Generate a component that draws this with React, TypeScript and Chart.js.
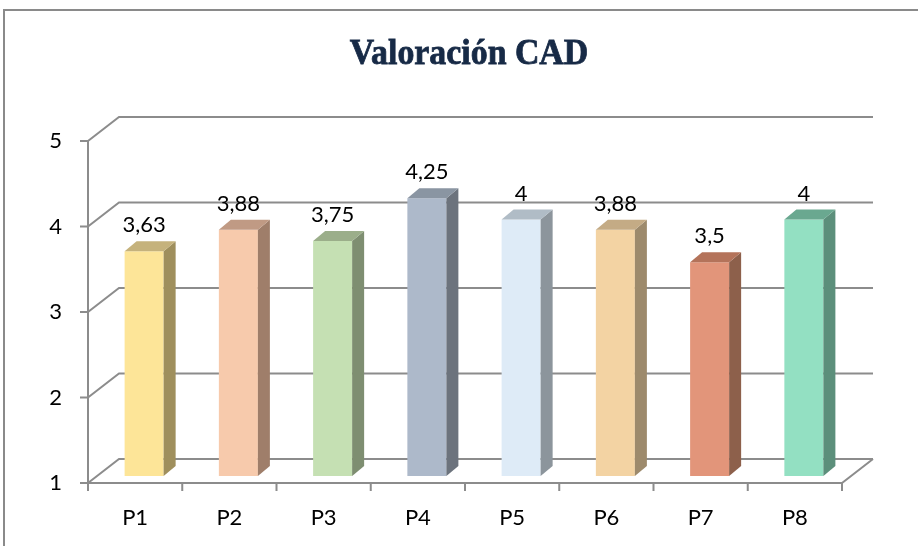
import { useEffect, useRef } from 'react';
import { Chart, registerables } from 'chart.js';

Chart.register(...registerables);

const title = 'Valoración CAD';
const categories = ['P1', 'P2', 'P3', 'P4', 'P5', 'P6', 'P7', 'P8'];
const values = [3.63, 3.88, 3.75, 4.25, 4, 3.88, 3.5, 4];
const valueLabels = ['3,63', '3,88', '3,75', '4,25', '4', '3,88', '3,5', '4'];
const yTicks = [1, 2, 3, 4, 5];
const frontColors = ['#fde598', '#f7caac', '#c5e0b3', '#adb9ca', '#deebf7', '#f3d3a3', '#e2957a', '#93e0c2'];
const sideColors = ['#9f8f5d', '#9f7e6a', '#7e8e71', '#6c737d', '#8c959c', '#9d8a6c', '#8d604b', '#5c8f7b'];
const topColors = ['#c5b27c', '#c09a84', '#9bae8a', '#8a95a2', '#b0bcc6', '#c4ab85', '#b4735a', '#6aa890'];

const WALL_DX = 31;
const WALL_DY = 24;
const BAR_SHIFT_X = 9;
const BAR_SHIFT_Y = 7;
const BAR_DX = 12;
const BAR_DY = 10;
const LINE = '#8c8c8c';
const FONT = 'Lato, "Open Sans", sans-serif';

const threeD = {
  id: 'threeD',
  beforeDraw(chart: any) {
    const { ctx, width, height } = chart;
    ctx.save();
    ctx.fillStyle = '#ffffff';
    ctx.fillRect(0, 0, width, height);
    ctx.strokeStyle = '#8a8a8a';
    ctx.lineWidth = 2;
    ctx.beginPath();
    ctx.moveTo(4, height);
    ctx.lineTo(4, 10);
    ctx.lineTo(width, 10);
    ctx.stroke();
    // title
    ctx.translate(469, 64);
    ctx.scale(0.94, 1);
    ctx.fillStyle = '#172a46';
    ctx.strokeStyle = '#172a46';
    ctx.lineWidth = 0.8;
    ctx.font = 'bold 36px "Liberation Serif", serif';
    ctx.textAlign = 'center';
    ctx.textBaseline = 'alphabetic';
    ctx.fillText(title, 0, 0);
    ctx.strokeText(title, 0, 0);
    ctx.restore();
  },
  beforeDatasetsDraw(chart: any) {
    const { ctx, chartArea, scales } = chart;
    const y = scales.y;
    const { left, right, top, bottom } = chartArea;
    ctx.save();
    ctx.strokeStyle = LINE;
    ctx.lineWidth = 2;
    ctx.beginPath();
    yTicks.forEach((t) => {
      const py = y.getPixelForValue(t);
      ctx.moveTo(left, py);
      ctx.lineTo(left + WALL_DX, py - WALL_DY);
      ctx.lineTo(right + WALL_DX, py - WALL_DY);
      ctx.moveTo(left - 8, py);
      ctx.lineTo(left, py);
    });
    ctx.moveTo(left, top);
    ctx.lineTo(left, bottom);
    ctx.lineTo(right, bottom);
    ctx.lineTo(right + WALL_DX, bottom - WALL_DY);
    const n = categories.length;
    for (let i = 0; i <= n; i++) {
      const xp = left + (i * (right - left)) / n;
      ctx.moveTo(xp, bottom);
      ctx.lineTo(xp, bottom + 8);
    }
    ctx.stroke();
    ctx.restore();
    ctx.save();
    ctx.translate(BAR_SHIFT_X, -BAR_SHIFT_Y);
  },
  afterDatasetsDraw(chart: any) {
    const { ctx } = chart;
    const yScale = chart.scales.y;
    const floor = yScale.getPixelForValue(yTicks[0]);
    const meta = chart.getDatasetMeta(0);
    meta.data.forEach((bar: any, i: number) => {
      const p = bar.getProps(['x', 'y', 'base', 'width'], true);
      const x = p.x;
      const y = p.y;
      const width = p.width;
      const base = Math.min(p.base, floor);
      const l = x - width / 2;
      const r = x + width / 2;
      ctx.fillStyle = sideColors[i];
      ctx.beginPath();
      ctx.moveTo(r, y);
      ctx.lineTo(r + BAR_DX, y - BAR_DY);
      ctx.lineTo(r + BAR_DX, base - BAR_DY);
      ctx.lineTo(r, base);
      ctx.closePath();
      ctx.fill();
      ctx.fillStyle = topColors[i];
      ctx.beginPath();
      ctx.moveTo(l, y);
      ctx.lineTo(l + BAR_DX, y - BAR_DY);
      ctx.lineTo(r + BAR_DX, y - BAR_DY);
      ctx.lineTo(r, y);
      ctx.closePath();
      ctx.fill();
      ctx.fillStyle = '#000000';
      ctx.font = `22px ${FONT}`;
      ctx.textAlign = 'center';
      ctx.textBaseline = 'alphabetic';
      ctx.fillText(valueLabels[i], x, y - 19);
    });
    ctx.restore();
  },
};

export default function App() {
  const ref = useRef<HTMLCanvasElement | null>(null);
  useEffect(() => {
    if (!ref.current) return;
    const chart = new Chart(ref.current, {
      type: 'bar',
      data: {
        labels: categories,
        datasets: [
          {
            data: values,
            base: 1,
            backgroundColor: frontColors,
            borderWidth: 0,
            categoryPercentage: 1,
            barPercentage: 0.414,
          },
        ],
      },
      options: {
        responsive: false,
        animation: false,
        events: [],
        layout: { padding: { left: 0, right: 76, top: 141, bottom: 0 } },
        plugins: {
          legend: { display: false },
          tooltip: { enabled: false },
          title: { display: false },
        },
        scales: {
          x: {
            grid: { display: false, drawTicks: false },
            border: { display: false },
            ticks: { color: '#000', font: { family: FONT, size: 22 }, padding: 22 },
            afterFit: (s: any) => {
              s.height = 63;
            },
          },
          y: {
            min: 1,
            max: 5,
            grid: { display: false, drawTicks: false },
            border: { display: false },
            ticks: { stepSize: 1, color: '#000', font: { family: FONT, size: 22 }, padding: 26 },
            afterFit: (s: any) => {
              s.width = 88;
            },
          },
        },
      },
      plugins: [threeD],
    });
    return () => chart.destroy();
  }, []);
  return (
    <div style={{ position: 'absolute', left: 0, top: 0, width: 918, height: 546 }}>
      <canvas ref={ref} width={918} height={546} style={{ display: 'block' }} />
    </div>
  );
}
